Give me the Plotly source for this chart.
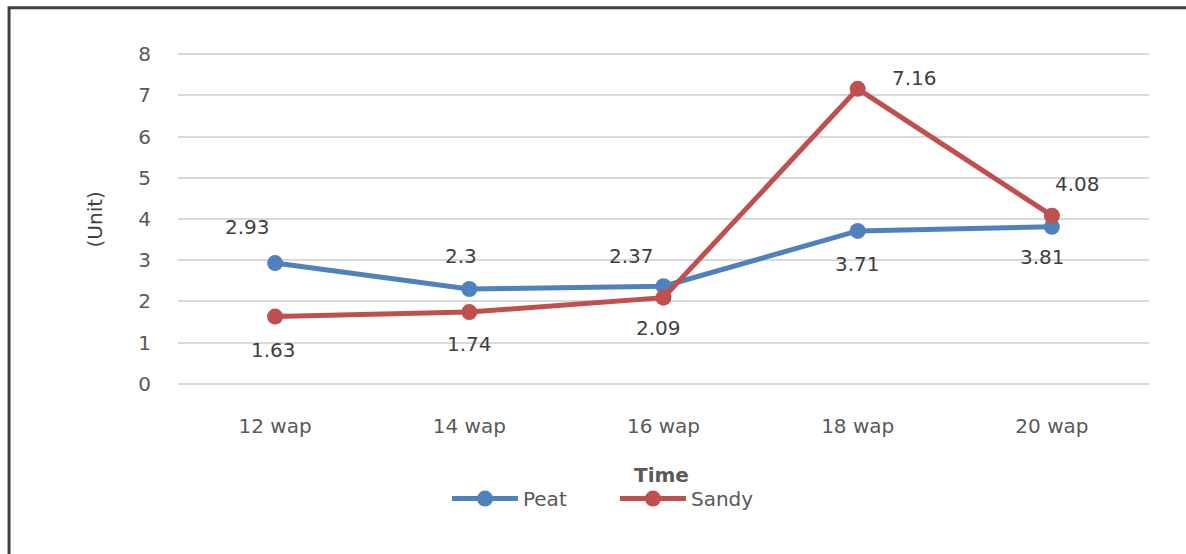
import plotly.graph_objects as go

# Sampling times and measured values
times = ["12 wap", "14 wap", "16 wap", "18 wap", "20 wap"]
peat = [2.93, 2.3, 2.37, 3.71, 3.81]
sandy = [1.63, 1.74, 2.09, 7.16, 4.08]
y_ticks = [0, 1, 2, 3, 4, 5, 6, 7, 8]

# label offsets (px) for each point's value label
peat_offsets = [(-28, 36), (-8, 33), (-32, 30), (0, -33), (-9, -30)]
sandy_offsets = [(-2, -33), (0, -32), (-5, -30), (57, 11), (26, 32)]

BLUE = "#4F81BD"
RED = "#C0504D"
TXT = "#595959"
FONT = "DejaVu Sans"
FS = 20

fig = go.Figure()
fig.add_trace(go.Scatter(
    x=times, y=peat, name="Peat", mode="lines+markers",
    line=dict(color=BLUE, width=5),
    marker=dict(color=BLUE, size=16),
))
fig.add_trace(go.Scatter(
    x=times, y=sandy, name="Sandy", mode="lines+markers",
    line=dict(color=RED, width=5),
    marker=dict(color=RED, size=16),
))

annotations = []
for series, offs in ((peat, peat_offsets), (sandy, sandy_offsets)):
    for t, v, (dx, dy) in zip(times, series, offs):
        annotations.append(dict(
            x=t, y=v, text=f"{v:g}", showarrow=False,
            xshift=dx, yshift=dy,
            font=dict(family=FONT, size=FS, color="#404040"),
        ))

annotations.append(dict(
    x=0.498, y=-0.27, xref="paper", yref="paper", text="<b>Time</b>",
    showarrow=False, yanchor="middle",
    font=dict(family=FONT, size=FS, color="#595959"),
))
annotations.append(dict(
    x=-0.085, y=0.5, xref="paper", yref="paper", text="(Unit)",
    textangle=-90, showarrow=False, xanchor="center",
    font=dict(family=FONT, size=FS, color="#404040"),
))

fig.update_layout(
    width=1186, height=554,
    margin=dict(l=178, r=37, t=53, b=169),
    paper_bgcolor="white", plot_bgcolor="white",
    showlegend=True,
    legend=dict(
        orientation="h", x=0.277, y=-0.342, xanchor="left", yanchor="middle",
        font=dict(family=FONT, size=FS, color=TXT),
        itemwidth=66, tracegroupgap=0,
        entrywidth=87, entrywidthmode="pixels",
    ),
    annotations=annotations,
    shapes=[dict(
        type="rect", xref="paper", yref="paper",
        x0=-0.174, x1=1.2, y0=-0.6, y1=1.136,
        line=dict(color="#404040", width=3),
    )],
)
fig.update_xaxes(
    range=[-0.5, 4.5], showgrid=False, zeroline=False, showline=False,
    ticks="", tickfont=dict(family=FONT, size=FS, color=TXT),
    ticklabelstandoff=27,
)
fig.update_yaxes(
    range=[-0.03, 8.03], tickvals=y_ticks, showgrid=True, gridcolor="#D9D9D9",
    gridwidth=1.5, zeroline=False, showline=False, ticks="",
    tickfont=dict(family=FONT, size=FS, color=TXT),
    ticklabelstandoff=26,
)

fig.write_html("out.html")
